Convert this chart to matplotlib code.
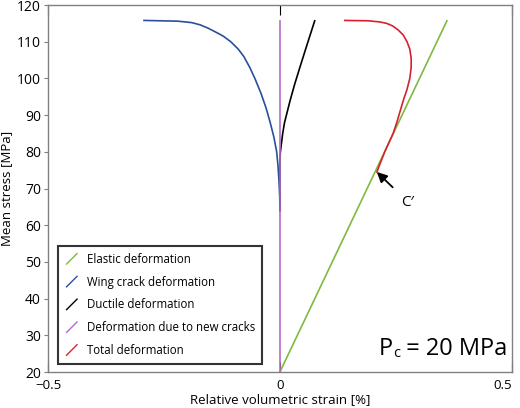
import matplotlib
matplotlib.use("Agg")
import matplotlib.pyplot as plt
from matplotlib.lines import Line2D
from matplotlib.legend_handler import HandlerBase

plt.rcParams['font.family'] = ['Open Sans', 'DejaVu Sans']

# data (strain in %, stress in MPa)
elastic_strain = [0.0, 0.36]
elastic_stress = [20, 115.7]

wing_strain = [0, -0.0005, -0.002, -0.004, -0.007, -0.013, -0.021, -0.030, -0.041,
               -0.054, -0.065, -0.078, -0.090, -0.106, -0.122, -0.138, -0.155,
               -0.172, -0.190, -0.22, -0.293]
wing_stress = [64, 68, 72, 76, 80, 84, 88, 92, 96,
               100, 103, 106, 108, 110, 111.5, 112.6, 113.7,
               114.6, 115.2, 115.6, 115.8]

ductile_strain = [0, 0, 0.001, 0.003, 0.006, 0.010, 0.016, 0.022, 0.032, 0.043,
                  0.058, 0.075]
ductile_stress = [64, 78, 80, 82, 85, 88, 91, 94, 98.5, 103, 109, 115.7]

newcrack_strain = [0, 0]
newcrack_stress = [20, 115.7]

total_strain = [0.209, 0.226, 0.244, 0.252, 0.259, 0.266, 0.274, 0.280, 0.283,
                0.283, 0.280, 0.274, 0.266, 0.255, 0.243, 0.230, 0.215, 0.19, 0.14]
total_stress = [74.5, 80, 85, 88, 91, 94, 97, 100, 103,
                105.5, 108, 110, 111.8, 113.2, 114.3, 115.0, 115.4, 115.7, 115.8]

labels = ['Elastic deformation', 'Wing crack deformation', 'Ductile deformation',
          'Deformation due to new cracks', 'Total deformation']
colors = ['#80b940', '#2b4f9c', '#000000', '#b46cc4', '#d7212e']

c_point = (0.209, 74.5)
c_text_pos = (0.276, 66.3)


class DiagonalHandler(HandlerBase):
    def create_artists(self, legend, orig_handle, xdescent, ydescent,
                       width, height, fontsize, trans):
        x0 = -xdescent + width * 0.1
        x1 = -xdescent + width * 0.75
        y0 = -ydescent - height * 0.15
        y1 = -ydescent + height * 1.15
        ln = Line2D([x0, x1], [y0, y1], color=orig_handle.get_color(), lw=1.0,
                    transform=trans)
        return [ln]


fig = plt.figure(figsize=(5.2, 4.08), dpi=100)
ax = fig.add_axes([0.0923, 0.0882, 0.892, 0.8995])

h_el, = ax.plot(elastic_strain, elastic_stress, color=colors[0], lw=1.2)
h_wc, = ax.plot(wing_strain, wing_stress, color=colors[1], lw=1.2)
h_du, = ax.plot(ductile_strain, ductile_stress, color=colors[2], lw=1.2)
h_nc, = ax.plot(newcrack_strain, newcrack_stress, color=colors[3], lw=1.2)
h_to, = ax.plot(total_strain, total_stress, color=colors[4], lw=1.2)

ax.set_xlim(-0.5, 0.5)
ax.set_ylim(20, 120)
ax.set_xticks([-0.5, 0, 0.5])
ax.set_xticklabels(['\u22120.5', '0', '0.5'])
ax.set_yticks(range(20, 121, 10))

for s in ax.spines.values():
    s.set_color('#808080')
    s.set_linewidth(1.0)

ax.tick_params(axis='y', direction='out', length=3, color='#808080', labelsize=10, pad=2)
ax.tick_params(axis='x', direction='in', length=7, color='black', top=True,
               labelsize=9.5, pad=5)
# keep the edge tick labels inside the figure
xt = ax.get_xticklabels()
xt[-1].set_horizontalalignment('right')

ax.set_xlabel('Relative volumetric strain [%]', fontsize=9.5, labelpad=1)
ax.set_ylabel('Mean stress [MPa]', fontsize=9.5, labelpad=3)

ax.annotate('C\u2032', xy=c_point, xytext=c_text_pos, fontsize=11,
            ha='center', va='center',
            arrowprops=dict(arrowstyle='-|>', color='black', lw=1.3,
                            mutation_scale=15, shrinkA=6, shrinkB=0))

leg = ax.legend([h_el, h_wc, h_du, h_nc, h_to], labels,
                handler_map={Line2D: DiagonalHandler()},
                loc='lower left', bbox_to_anchor=(0.0216, 0.022),
                fontsize=8.3, frameon=True, fancybox=False,
                handlelength=1.4, handletextpad=0.5, labelspacing=0.85,
                borderpad=0.6, borderaxespad=0)
leg.get_frame().set_edgecolor('black')
leg.get_frame().set_linewidth(1.5)

# P_c label
t1 = ax.text(0.712, 0.045, 'P', transform=ax.transAxes, fontsize=17,
             ha='left', va='baseline')
t2 = ax.annotate('c', xy=(1, 0), xycoords=t1, xytext=(0.5, 0),
                 textcoords='offset points', fontsize=10.5, va='bottom')
ax.annotate(' = 20 MPa', xy=(1, 0), xycoords=t2, fontsize=17, va='bottom')

fig.savefig('out.png', dpi=100, facecolor='white')
